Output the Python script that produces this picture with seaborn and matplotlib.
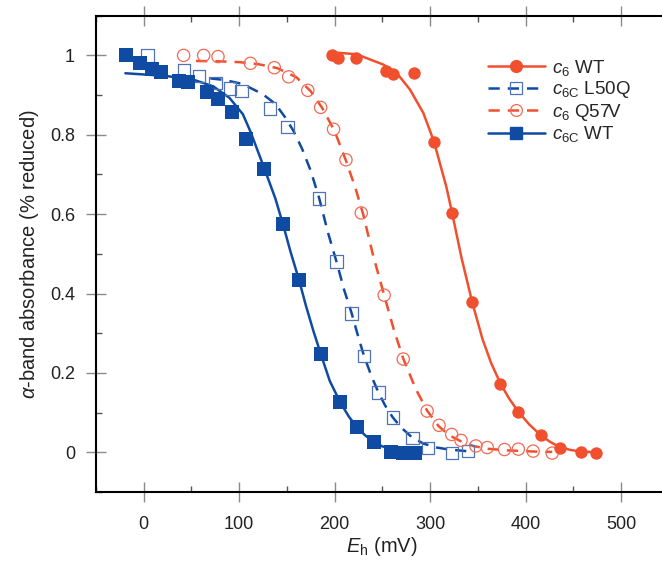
import matplotlib
matplotlib.use("Agg")
import matplotlib.pyplot as plt
from matplotlib.lines import Line2D
from matplotlib.ticker import MultipleLocator, FuncFormatter
import seaborn as sns

# measured points (Eh in mV, fraction reduced)
c6_wt_x = [197, 204, 223, 254, 261, 283, 304, 323, 344, 373.6, 392.5, 416, 436, 458, 474]
c6_wt_y = [1.0, 0.994, 0.994, 0.96, 0.954, 0.956, 0.781, 0.603, 0.378, 0.172, 0.102, 0.043, 0.012, 0.002, -0.001]

c6_q57v_x = [42, 63, 78, 112, 137, 152, 172, 185.5, 199, 212, 228, 252, 272, 297, 309.5,
             322.7, 332.5, 348, 360, 378, 392.5, 408, 428]
c6_q57v_y = [1.0, 1.0, 0.997, 0.98, 0.969, 0.946, 0.912, 0.869, 0.814, 0.737, 0.603, 0.396, 0.235,
             0.104, 0.068, 0.045, 0.03, 0.016, 0.012, 0.007, 0.008, 0.003, -0.002]

c6c_l50q_x = [4.4, 42.7, 58.4, 75.6, 90.6, 102.8, 132.5, 151, 183.8, 202.3, 218, 231, 246, 261,
              281.5, 298, 323, 339.5]
c6c_l50q_y = [1.0, 0.963, 0.948, 0.931, 0.917, 0.91, 0.866, 0.82, 0.639, 0.481, 0.35, 0.242, 0.151,
              0.088, 0.036, 0.011, -0.002, 0.003]

c6c_wt_x = [-18.6, -3.7, 9.2, 18, 37, 47, 67, 78, 93, 107, 126, 145.8, 162.8, 185.6, 205.8, 223.6,
            241.4, 259, 272, 284]
c6c_wt_y = [1.0, 0.98, 0.966, 0.959, 0.935, 0.934, 0.907, 0.89, 0.858, 0.79, 0.714, 0.575, 0.433,
            0.247, 0.126, 0.064, 0.026, 0.001, -0.003, -0.003]

# fitted curves
fit_c6_wt_x = [196, 223, 251, 265, 279, 293, 304, 317, 323, 333, 344, 355, 364, 374, 383, 392.5,
               404, 416, 426, 436, 447, 458, 474]
fit_c6_wt_y = [1.008, 1.003, 0.977, 0.956, 0.914, 0.855, 0.784, 0.67, 0.605, 0.49, 0.38, 0.285,
               0.225, 0.172, 0.135, 0.102, 0.07, 0.043, 0.026, 0.013, 0.006, 0.002, 0.0]

fit_q57v_x = [55, 80, 100, 120, 140, 160, 175, 187, 200, 212, 222, 230, 240, 252, 262, 272, 285,
              297, 309, 320, 333, 345, 360, 380, 408, 428]
fit_q57v_y = [0.986, 0.985, 0.983, 0.978, 0.968, 0.945, 0.91, 0.868, 0.81, 0.735, 0.665, 0.6, 0.5,
              0.396, 0.31, 0.236, 0.16, 0.105, 0.066, 0.043, 0.027, 0.016, 0.009, 0.005, 0.002, 0.001]

fit_l50q_x = [70, 85, 100, 112, 125, 138, 148, 157, 166, 175, 184, 193, 202, 210, 218, 225, 231,
              239, 246, 253, 261, 270, 281, 293, 307, 320, 338]
fit_l50q_y = [0.942, 0.938, 0.93, 0.918, 0.902, 0.878, 0.845, 0.81, 0.765, 0.71, 0.64, 0.555, 0.481,
              0.41, 0.35, 0.29, 0.242, 0.19, 0.151, 0.118, 0.088, 0.062, 0.038, 0.022, 0.012, 0.007, 0.003]

fit_c6c_wt_x = [-19, 0, 24, 52, 73, 90, 104, 112, 125, 138, 146, 154, 163, 170, 178, 186, 195, 206,
                215, 224, 232, 241, 250, 265, 290]
fit_c6c_wt_y = [0.955, 0.952, 0.948, 0.939, 0.922, 0.893, 0.852, 0.808, 0.725, 0.64, 0.575, 0.505,
                0.433, 0.37, 0.305, 0.245, 0.18, 0.126, 0.09, 0.062, 0.043, 0.026, 0.015, 0.005, 0.0]

x_ticks = [0, 100, 200, 300, 400, 500]
y_ticks = [0, 0.2, 0.4, 0.6, 0.8, 1.0]

RED = "#f0502e"
RED_LIGHT = "#f26a55"
BLUE = "#0f4aa3"
BLUE_LIGHT = "#4f72b8"

sns.set_theme(style="ticks")
plt.rcParams["font.family"] = ["Liberation Sans", "DejaVu Sans"]
plt.rcParams["mathtext.fontset"] = "custom"
plt.rcParams["mathtext.rm"] = "Liberation Sans"
plt.rcParams["mathtext.it"] = "Liberation Sans:italic"
plt.rcParams["mathtext.bf"] = "Liberation Sans:bold"

fig = plt.figure(figsize=(6.62, 5.62), dpi=100)
ax = fig.add_axes([95.75 / 662, 70 / 562, 573 / 662, 476.3 / 562])

lw = 1.8
dash = (4.5, 3.2)

# fit curves
sns.lineplot(x=fit_c6c_wt_x, y=fit_c6c_wt_y, ax=ax, color=BLUE, lw=lw, sort=False)
sns.lineplot(x=fit_l50q_x, y=fit_l50q_y, ax=ax, color=BLUE, lw=lw, sort=False,
             linestyle=(0, dash))
sns.lineplot(x=fit_q57v_x, y=fit_q57v_y, ax=ax, color=RED, lw=lw, sort=False,
             linestyle=(0, dash))
sns.lineplot(x=fit_c6_wt_x, y=fit_c6_wt_y, ax=ax, color=RED, lw=lw, sort=False)

# data points
sns.scatterplot(x=c6c_l50q_x, y=c6c_l50q_y, ax=ax, marker="s", s=80, facecolor="none",
                edgecolor=BLUE_LIGHT, linewidth=0.9, zorder=3)
sns.scatterplot(x=c6_q57v_x, y=c6_q57v_y, ax=ax, marker="o", s=78, facecolor="none",
                edgecolor=RED_LIGHT, linewidth=0.9, zorder=3)
sns.scatterplot(x=c6c_wt_x, y=c6c_wt_y, ax=ax, marker="s", s=88, color=BLUE,
                edgecolor=BLUE, linewidth=0, zorder=4)
sns.scatterplot(x=c6_wt_x, y=c6_wt_y, ax=ax, marker="o", s=80, color=RED,
                edgecolor=RED, linewidth=0, zorder=4)

ax.set_xlim(-50, 550)
ax.set_ylim(-0.1, 1.1)
ax.set_xticks(x_ticks)
ax.set_yticks(y_ticks)
ax.xaxis.set_minor_locator(MultipleLocator(50))
ax.yaxis.set_minor_locator(MultipleLocator(0.1))
ax.yaxis.set_major_formatter(FuncFormatter(lambda v, p: f"{v:g}"))

for side in ["left", "right", "top", "bottom"]:
    ax.spines[side].set_visible(True)
    ax.spines[side].set_linewidth(1.5)
    ax.spines[side].set_color("black")

ax.tick_params(which="major", direction="inout", length=14, width=1, color="#8a8a8a",
               labelsize=13, labelcolor="#222222", top=True)
ax.tick_params(axis="x", which="major", pad=10)
ax.tick_params(axis="y", which="major", pad=8)
ax.tick_params(which="minor", direction="in", length=4.5, width=1, color="#555555", top=True)

ax.set_xlabel(r"$\mathit{E}_{\mathrm{h}}$ (mV)", fontsize=14.5, color="#222222", labelpad=2)
ax.set_ylabel(r"$\mathit{\alpha}$-band absorbance (% reduced)", fontsize=14.5, color="#222222",
              labelpad=6)

handles = [
    Line2D([], [], color=RED, lw=lw, marker="o", ms=8.5, mfc=RED, mec=RED),
    Line2D([], [], color=BLUE, lw=lw, ls=(0, dash), marker="s", ms=8.5, mfc="none",
           mec=BLUE_LIGHT, mew=0.9),
    Line2D([], [], color=RED, lw=lw, ls=(0, dash), marker="o", ms=8.5, mfc="none",
           mec=RED_LIGHT, mew=0.9),
    Line2D([], [], color=BLUE, lw=lw, marker="s", ms=9, mfc=BLUE, mec=BLUE),
]
labels = [
    r"$\mathit{c}_{\mathrm{6}}$ WT",
    r"$\mathit{c}_{\mathrm{6C}}$ L50Q",
    r"$\mathit{c}_{\mathrm{6}}$ Q57V",
    r"$\mathit{c}_{\mathrm{6C}}$ WT",
]
ax.legend(handles, labels, loc="upper left", bbox_to_anchor=(0.685, 0.912), frameon=False,
          fontsize=13.5, handlelength=3.0, handletextpad=0.4, labelspacing=0.08,
          borderaxespad=0, borderpad=0)

fig.savefig("out.png", dpi=100)
